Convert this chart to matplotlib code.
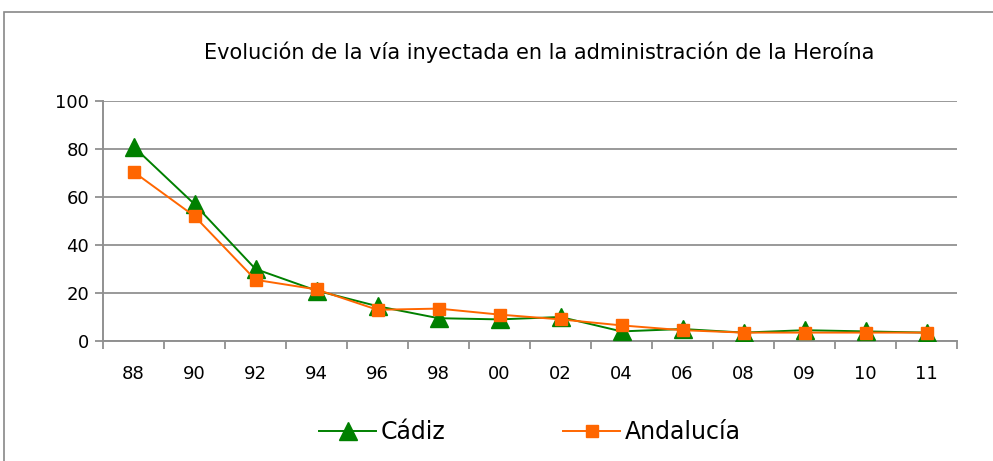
import matplotlib
matplotlib.use("Agg")
import matplotlib.pyplot as plt
from matplotlib.patches import Rectangle
import numpy as np

years = ["88", "90", "92", "94", "96", "98", "00", "02", "04", "06", "08", "09", "10", "11"]
cadiz = [81, 57, 30, 21, 14.5, 9.5, 9, 10, 4, 5, 3.5, 4.5, 4, 3.5]
andalucia = [70.5, 52, 25.5, 21.5, 13, 13.5, 11, 9, 6.5, 4.5, 3.5, 3.5, 3.5, 3.5]
title = "Evolución de la vía inyectada en la administración de la Heroína"

plt.rcParams['font.family'] = ['DejaVu Sans']

W, H = 993, 461
fig = plt.figure(figsize=(W / 100, H / 100), dpi=100)

# outer frame
fig.patches.append(Rectangle((4 / W, -0.1), 1.2, (H - 12) / H + 0.1,
                             transform=fig.transFigure, fill=False,
                             edgecolor="#888888", linewidth=1.2))

ax = fig.add_axes([103 / W, (H - 341) / H, (957 - 103) / W, 240 / H])
x = np.arange(len(years))
ax.plot(x, cadiz, color="#008000", lw=1.4, marker="^", markersize=13,
        label="Cádiz", zorder=3)
ax.plot(x, andalucia, color="#FF6600", lw=1.4, marker="s", markersize=8.5,
        label="Andalucía", zorder=4)

ax.set_xlim(-0.5, len(years) - 0.5)
ax.set_ylim(0, 100)
ax.set_yticks([0, 20, 40, 60, 80, 100])
ax.set_xticks(x)
ax.set_xticklabels(years)
ax.set_xticks(np.arange(-0.5, len(years), 1), minor=True)
ax.tick_params(axis="x", which="major", length=0, pad=17, labelsize=13)
ax.tick_params(axis="x", which="minor", length=6, width=1.3, color="#909090")
ax.tick_params(axis="y", length=6, width=1.3, color="#909090", labelsize=13, pad=4)
ax.grid(axis="y", color="#999999", lw=1.4)
ax.set_axisbelow(True)
for s in ["top", "right"]:
    ax.spines[s].set_visible(False)
for s in ["left", "bottom"]:
    ax.spines[s].set_color("#909090")
    ax.spines[s].set_linewidth(1.4)

fig.text(539 / W, (H - 52) / H, title, ha="center", va="center", fontsize=15)

fig.legend(loc="center", bbox_to_anchor=(530 / W, (H - 432) / H), ncol=2,
           frameon=False, fontsize=17, handlelength=2.4, handletextpad=0.2,
           columnspacing=5.0)

fig.savefig("out.png", dpi=100)
